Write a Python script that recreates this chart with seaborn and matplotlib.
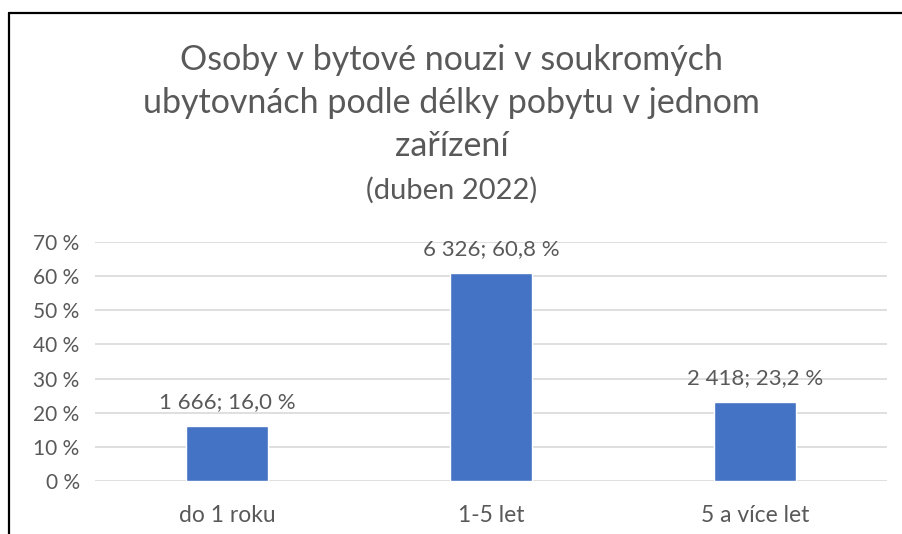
import matplotlib
matplotlib.use("Agg")
import matplotlib.pyplot as plt
from matplotlib.lines import Line2D
from matplotlib.ticker import FuncFormatter
import pandas as pd
import seaborn as sns

categories = ["do 1 roku", "1-5 let", "5 a více let"]
counts = [1666, 6326, 2418]
shares = [16.0, 60.8, 23.2]
y_ticks = [0, 10, 20, 30, 40, 50, 60, 70]
title_lines = ["Osoby v bytové nouzi v soukromých",
               "ubytovnách podle délky pobytu v jednom",
               "zařízení"]
subtitle = "(duben 2022)"

df = pd.DataFrame({"kategorie": categories, "podil": shares, "pocet": counts})

sns.set_style("white")
plt.rcParams["font.family"] = ["Lato", "DejaVu Sans"]
grey = "#595959"

fig = plt.figure(figsize=(9.03, 5.34), dpi=100)
ax = fig.add_axes([95 / 903, 1 - 481 / 534, 792 / 903, 239 / 534])

sns.barplot(data=df, x="kategorie", y="podil", color="#4472C4", width=0.31,
            saturation=1, ax=ax)

ax.set_ylim(0, 70)
ax.set_yticks(y_ticks)
ax.yaxis.set_major_formatter(FuncFormatter(lambda v, p: f"{int(v)} %"))
ax.grid(axis="y", color="#D9D9D9", linewidth=1.2)
ax.set_axisbelow(True)
for s in ax.spines.values():
    s.set_visible(False)
ax.tick_params(axis="both", length=0, colors=grey)
ax.tick_params(axis="y", pad=11, labelsize=15)
ax.tick_params(axis="x", pad=17, labelsize=16.5)
ax.set_xlabel("")
ax.set_ylabel("")

# data labels
for i, (c, s) in enumerate(zip(counts, shares)):
    lab = f"{c:,}".replace(",", " ") + "; " + f"{s:.1f}".replace(".", ",") + " %"
    ax.annotate(lab, (i, s), xytext=(0, 10), textcoords="offset points",
                ha="center", va="bottom", fontsize=16, color=grey)

for line, y in zip(title_lines, [70, 113, 156]):
    fig.text(0.5, 1 - y / 534, line, ha="center", va="baseline",
             fontsize=24.5, color=grey)
fig.text(0.5, 1 - 199 / 534, subtitle, ha="center", va="baseline",
         fontsize=21, color=grey)

# chart frame (cropped at right and bottom)
fig.add_artist(Line2D([8.5 / 903, 8.5 / 903], [0, 1 - 13 / 534], color="black",
                      linewidth=1.6, transform=fig.transFigure))
fig.add_artist(Line2D([8.5 / 903, 1], [1 - 13 / 534, 1 - 13 / 534], color="black",
                      linewidth=1.6, transform=fig.transFigure))

fig.savefig("out.png", dpi=100)
